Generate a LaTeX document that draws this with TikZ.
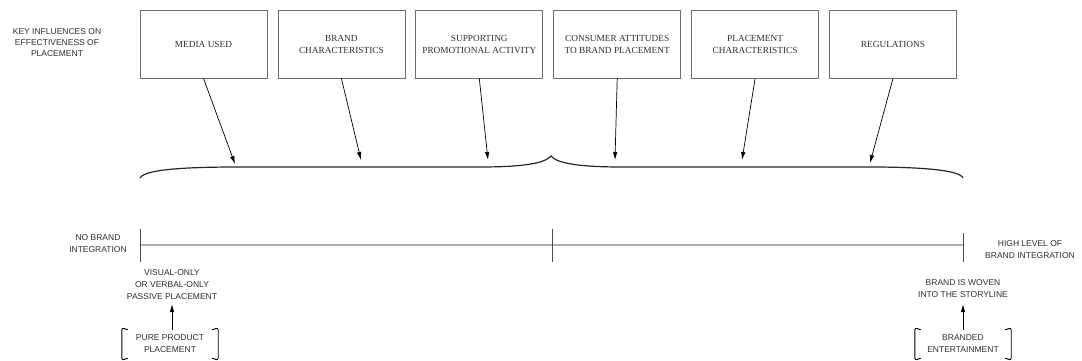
\documentclass[tikz,border=0pt]{standalone}
\usepackage{fontspec}
\setmainfont{Liberation Serif}
\setsansfont{Liberation Sans}
\usetikzlibrary{arrows.meta}
\definecolor{boxgray}{HTML}{707070}
\definecolor{textgray}{HTML}{2E2E2E}
\definecolor{axisgray}{HTML}{B0B0B0}
\tikzset{
  infbox/.style={draw=boxgray, line width=0.8pt, minimum width=127pt,
    minimum height=68pt, align=center, text=textgray,
    font=\fontsize{9.3}{12}\selectfont},
  note/.style={align=center, inner sep=0pt, text=textgray,
    font=\sffamily\fontsize{8.5}{12}\selectfont},
  pointer/.style={-{Latex[length=8pt,width=4.5pt]}, line width=0.7pt},
  tick/.style={draw=black!70, line width=0.8pt},
  bracketbox/.style={note, minimum width=96pt, minimum height=28pt}
}
\begin{document}
\begin{tikzpicture}
[x=1pt, y=-1pt]
\useasboundingbox (0,0) rectangle (1082,361);
% influences
\node[note, font=\sffamily\fontsize{8.5}{11}\selectfont] (key) at (57,43)
  {KEY INFLUENCES ON\\EFFECTIVENESS OF\\PLACEMENT};
\foreach \name/\txt/\ex/\ey [count=\i from 0] in {
  media/MEDIA USED/235/164,
  brand/{BRAND\\CHARACTERISTICS}/361/160,
  promo/{SUPPORTING\\PROMOTIONAL ACTIVITY}/488/160,
  attitude/{CONSUMER ATTITUDES\\TO BRAND PLACEMENT}/615/160,
  placement/{PLACEMENT\\CHARACTERISTICS}/742/160,
  regulation/REGULATIONS/870/163}{
\node[infbox] (\name) at ({203.5+\i*137.9},44) {\txt};
\coordinate (\name-end) at (\ex,\ey);
\draw[pointer] (\name.south) -- (\name-end);
}
% brace
\draw[line width=1.2pt, black!85]
  (140,178) .. controls (145,168) and (200,167) .. (240,167) -- (480,167)
  .. controls (530,167) and (546,162) .. (551,156)
  .. controls (556,162) and (572,167) .. (622,167) -- (870,167)
  .. controls (920,167) and (960,170) .. (963,178);
% integration scale
\coordinate (lo) at (140,245);
\coordinate (mid) at (552,245);
\coordinate (hi) at (963,245);
\draw[axisgray, line width=2pt] (lo) -- (hi);
\draw[tick] (lo) ++(0,-16) -- ++(0,33);
\draw[tick] (mid) ++(0,-16) -- ++(0,33);
\draw[tick] (hi) ++(0,-12) -- ++(0,29);
\node[note] (none) at (98,244) {NO BRAND\\INTEGRATION};
\node[note] (high) at (1030,250) {HIGH LEVEL OF\\BRAND INTEGRATION};
% pure product placement
\node[note] (visual) at (172,285) {VISUAL-ONLY\\OR VERBAL-ONLY\\PASSIVE PLACEMENT};
\node[bracketbox] (pure) at (170,344) {PURE PRODUCT\\PLACEMENT};
\draw[pointer] (pure.north -| visual.south) -- ([yshift=-4pt]visual.south);
\draw[line width=0.9pt, rounded corners=2pt]
  ([xshift=6pt]pure.north west) -- ([yshift=2pt]pure.north west) -- ([yshift=-2pt]pure.south west) -- ([xshift=6pt]pure.south west)
  ([xshift=-6pt]pure.north east) -- ([yshift=2pt]pure.north east) -- ([yshift=-2pt]pure.south east) -- ([xshift=-6pt]pure.south east);
% branded entertainment
\node[note] (woven) at (963,289) {BRAND IS WOVEN\\INTO THE STORYLINE};
\node[bracketbox] (branded) at (963,344) {BRANDED\\ENTERTAINMENT};
\draw[pointer] (branded.north) -- ([yshift=-6pt]woven.south);
\draw[line width=0.9pt, rounded corners=2pt]
  ([xshift=6pt]branded.north west) -- ([yshift=2pt]branded.north west) -- ([yshift=-2pt]branded.south west) -- ([xshift=6pt]branded.south west)
  ([xshift=-6pt]branded.north east) -- ([yshift=2pt]branded.north east) -- ([yshift=-2pt]branded.south east) -- ([xshift=-6pt]branded.south east);
\end{tikzpicture}
\end{document}
